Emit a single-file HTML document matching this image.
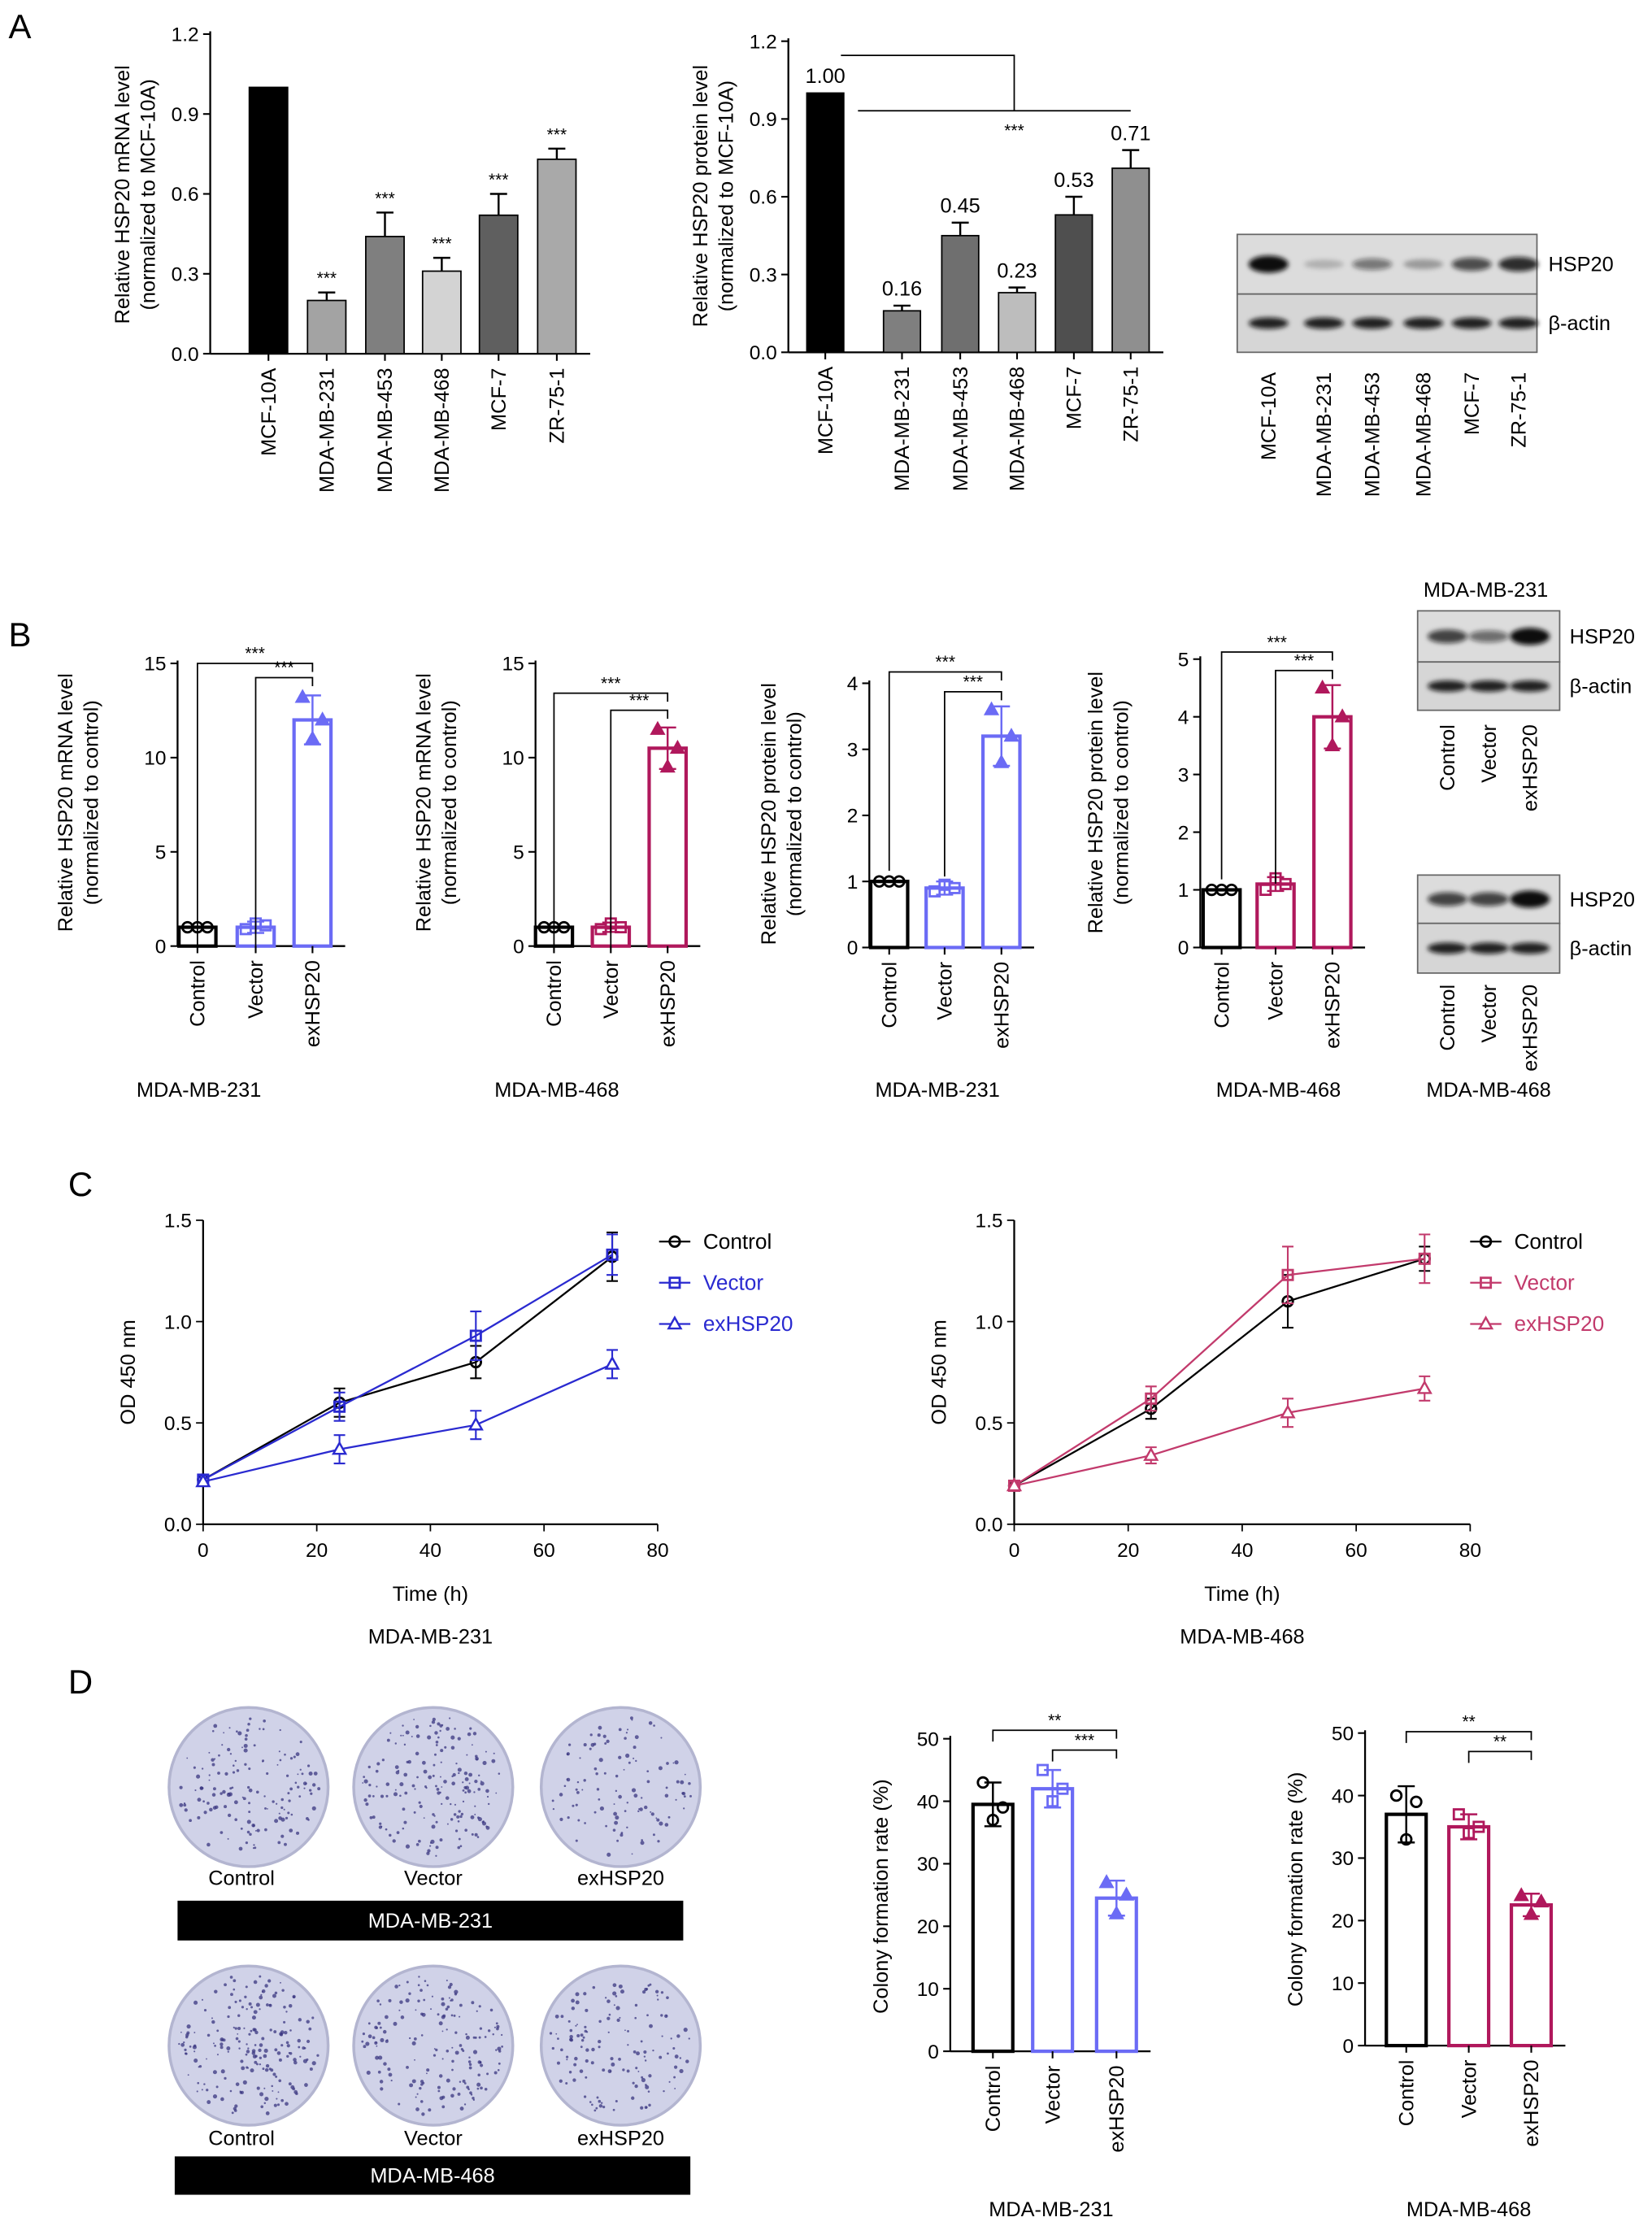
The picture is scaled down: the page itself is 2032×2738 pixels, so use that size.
<!DOCTYPE html>
<html><head><meta charset="utf-8"><style>
html,body{margin:0;padding:0;background:#fff}
svg{display:block;font-family:"Liberation Sans",Arial,sans-serif}
</style></head><body>
<svg id="fig" width="2032" height="2738" viewBox="0 0 1163 1567" preserveAspectRatio="none" xmlns="http://www.w3.org/2000/svg">
<defs><filter id="blur" x="-50%" y="-50%" width="200%" height="200%"><feGaussianBlur stdDeviation="1.6"/></filter></defs>
<text x="6" y="27" font-size="24">A</text>
<text x="6" y="455" font-size="24">B</text>
<text x="48" y="842" font-size="24">C</text>
<text x="48" y="1192" font-size="24">D</text>
</svg>
<script>
// ---------- DATA ----------
const cellLines = ['MCF-10A','MDA-MB-231','MDA-MB-453','MDA-MB-468','MCF-7','ZR-75-1'];
const aMrnaVals = [1.0,0.2,0.44,0.31,0.52,0.73];
const aMrnaErr = [0,0.03,0.09,0.05,0.08,0.04];
const aMrnaStars = ['','***','***','***','***','***'];
const aProtVals = [1.0,0.16,0.45,0.23,0.53,0.71];
const aProtErr = [0,0.02,0.05,0.02,0.07,0.07];
const aProtLabels = ['1.00','0.16','0.45','0.23','0.53','0.71'];
const aTicks = [0,0.3,0.6,0.9,1.2];
const groups = ['Control','Vector','exHSP20'];
const b1Vals = [1,1,12], b1Err=[0,0.3,1.3], b1Pts=[[1,1,1],[0.9,1.2,1.1],[13.2,11,12]];
const b2Vals = [1,1,10.5], b2Err=[0,0.25,1.1], b2Pts=[[1,1,1],[0.9,1.2,1.0],[11.5,9.5,10.5]];
const b3Vals = [1,0.9,3.2], b3Err=[0,0.1,0.45], b3Pts=[[1,1,1],[0.85,0.95,0.9],[3.6,2.8,3.2]];
const b4Vals = [1,1.1,4.0], b4Err=[0,0.12,0.55], b4Pts=[[1,1,1],[1.0,1.2,1.1],[4.5,3.5,4.0]];
const bTicks15=[0,5,10,15], bTicks4=[0,1,2,3,4], bTicks5=[0,1,2,3,4,5];
const timePts = [0,24,48,72];
const c1Control=[0.22,0.6,0.8,1.32], c1ControlErr=[0.02,0.07,0.08,0.12];
const c1Vector=[0.22,0.58,0.93,1.33], c1VectorErr=[0.02,0.07,0.12,0.1];
const c1Ex=[0.21,0.37,0.49,0.79], c1ExErr=[0.02,0.07,0.07,0.07];
const c2Control=[0.19,0.57,1.1,1.31], c2ControlErr=[0.02,0.05,0.13,0.06];
const c2Vector=[0.19,0.62,1.23,1.31], c2VectorErr=[0.02,0.06,0.14,0.12];
const c2Ex=[0.19,0.34,0.55,0.67], c2ExErr=[0.02,0.04,0.07,0.06];
const cYTicks=[0,0.5,1.0,1.5], cXTicks=[0,20,40,60,80];
const d1Vals=[39.5,42,24.5], d1Err=[3.5,3,2.8], d1Pts=[[43,37,39],[45,40,42],[27,22,25]];
const d2Vals=[37,35,22.5], d2Err=[4.5,2,1.8], d2Pts=[[40,33,39],[37,34,35],[24,21,23]];
const dTicks=[0,10,20,30,40,50];

// ---------- HELPERS ----------
const svg=document.getElementById('fig');
const NS='http://www.w3.org/2000/svg';
function mk(tag,attrs,parent){const e=document.createElementNS(NS,tag);for(const k in attrs)e.setAttribute(k,attrs[k]);(parent||svg).appendChild(e);return e;}
function txt(x,y,s,size,extra,parent){const e=mk('text',Object.assign({x:x,y:y,'font-size':size},extra||{}),parent);e.textContent=s;return e;}
function fmt(v,d){return d?v.toFixed(d):String(v);}

function marker(kind,x,y,color,g){
  let e;
  if(kind===0) e=mk('circle',{cx:x,cy:y,r:3.6,fill:'none',stroke:color,'stroke-width':1.6},g);
  else if(kind===1) e=mk('rect',{x:x-3.5,y:y-3.5,width:7,height:7,fill:'none',stroke:color,'stroke-width':1.6},g);
  else e=mk('polygon',{points:`${x},${y-4.5} ${x-4.3},${y+3.2} ${x+4.3},${y+3.2}`,fill:color==='#fff'?'none':color,stroke:color,'stroke-width':1.4},g);
  return e;
}

function barChart(o){
  const g=mk('g',{});
  
  
  const ys=v=>o.y0-(v/o.max)*(o.y0-o.yTop);
  const ax=mk('line',{x1:o.ax,y1:o.yTop-2,x2:o.ax,y2:o.y0,stroke:'#000','stroke-width':1.3},g);
  
  
  const xEnd=o.xs[o.xs.length-1]+o.bw/2+10;
  const xa=mk('line',{x1:o.ax,y1:o.y0,x2:xEnd,y2:o.y0,stroke:'#000','stroke-width':1.3},g);
  
  
  o.ticks.forEach(t=>{
    const y=ys(t);
    mk('line',{x1:o.ax-5,y1:y,x2:o.ax,y2:y,stroke:'#000','stroke-width':1.2},g);
    const tl=txt(o.ax-8,y+5,fmt(t,o.dec),14,{'text-anchor':'end'},g);
    
    
  });
  o.ylab.forEach((s,i)=>{
    const t=txt(0,0,s,14.5,{'text-anchor':'middle',transform:`translate(${o.ylx+i*18},${o.ylc}) rotate(-90)`},g);
    
    
  });
  o.vals.forEach((v,i)=>{
    const x=o.xs[i],y=ys(v);
    const open=o.open;
    const col=o.colors[i];
    const b=mk('rect',{x:x-o.bw/2,y:y,width:o.bw,height:o.y0-y,fill:open?'#fff':col,stroke:open?col:'#000','stroke-width':open?2.4:1},g);
    
    
    const ec=open?col:'#000';
    if(o.err[i]>0){
      const y1=ys(v+o.err[i]),y2=ys(v-o.err[i]);
      mk('line',{x1:x,y1:y1,x2:x,y2:open?y2:y,stroke:ec,'stroke-width':1.4},g);
      mk('line',{x1:x-6,y1:y1,x2:x+6,y2:y1,stroke:ec,'stroke-width':1.4},g);
      if(open) mk('line',{x1:x-6,y1:y2,x2:x+6,y2:y2,stroke:ec,'stroke-width':1.4},g);
    }
    if(o.pts){o.pts[i].forEach((p,j)=>{const m=marker(i,x+(j-1)*7,ys(p),col,g);});}
    if(o.stars&&o.stars[i]){const s=txt(x,ys(v+o.err[i])-6,o.stars[i],12,{'text-anchor':'middle'},g);}
    if(o.vlabels){const s=txt(x,ys(v+o.err[i])-7,o.vlabels[i],14.5,{'text-anchor':'middle'},g);}
    mk('line',{x1:x,y1:o.y0,x2:x,y2:o.y0+5,stroke:'#000','stroke-width':1.2},g);
    const cl=txt(0,0,o.cats[i],14.5,{'text-anchor':'end',transform:`translate(${x+5},${o.y0+10}) rotate(-90)`},g);
    
    
  });
  if(o.title){const t=txt(o.title[0],o.title[1],o.title[2],14.5,{'text-anchor':'middle'},g);}
  (o.brackets||[]).forEach(b=>{
    const i=b[0],j=b[1],y=b[2];
    const xi=o.xs[i],xj=o.xs[j];
    mk('path',{d:`M${xi},${y+ (b[4]||90)} L${xi},${y} L${xj},${y} L${xj},${y+6}`,fill:'none',stroke:'#000','stroke-width':1},g);
    const s=txt((xi+xj)/2,y-3,b[3],12,{'text-anchor':'middle'},g);
    
    
  });
  return g;
}

// ---------- PANEL A ----------
const grayCols=['#000','#a3a3a3','#7f7f7f','#d3d3d3','#5f5f5f','#a9a9a9'];
barChart({name:'chart-a-mrna',ax:148,y0:249,yTop:24,max:1.2,ticks:aTicks,dec:1,xs:[189,230,271,311,351,392],bw:27,
  vals:aMrnaVals,err:aMrnaErr,colors:grayCols,cats:cellLines,stars:aMrnaStars,ylab:['Relative HSP20 mRNA level','(normalized to MCF-10A)'],ylx:91,ylc:137});
const gA2=barChart({name:'chart-a-protein',ax:555,y0:248,yTop:29,max:1.2,ticks:aTicks,dec:1,xs:[581,635,676,716,756,796],bw:26,
  vals:aProtVals,err:aProtErr,colors:['#000','#7f7f7f','#6f6f6f','#bdbdbd','#4f4f4f','#8f8f8f'],cats:cellLines,vlabels:aProtLabels,ylab:['Relative HSP20 protein level','(normalized to MCF-10A)'],ylx:498,ylc:138});
mk('path',{d:'M592,39 L714,39 L714,78 M604,78 L796,78',fill:'none',stroke:'#000','stroke-width':1},gA2);
txt(714,96,'***',12,{'text-anchor':'middle'},gA2);

function blot(name,x,y,w,h1,h2,lanes,topI,labels,lx){
  const g=mk('g',{});
  
  
  mk('rect',{x:x,y:y,width:w,height:h1,fill:'#dcdcdc',stroke:'#666','stroke-width':1},g);
  mk('rect',{x:x,y:y+h1,width:w,height:h2,fill:'#d6d6d6',stroke:'#666','stroke-width':1},g);
  lanes.forEach((lx0,i)=>{
    const it=topI[i];
    mk('ellipse',{cx:lx0,cy:y+h1/2,rx:14,ry:3+3*it,fill:'#111','fill-opacity':Math.min(1,0.15+it),filter:'url(#blur)'},g);
    mk('ellipse',{cx:lx0,cy:y+h1+h2/2,rx:14,ry:4,fill:'#111','fill-opacity':0.9,filter:'url(#blur)'},g);
  });
  const l1=txt(lx,y+h1/2+5,labels[0],14.5,{},g);
  
  
  const l2=txt(lx,y+h1+h2/2+5,labels[1],14.5,{},g);
  
  
  return g;
}
const gBA=blot('western-blot-a',871,165,211,42,41,[893,932,966,1002,1036,1069],[1,0.05,0.35,0.15,0.55,0.7],['HSP20','β-actin'],1090);
[893,932,966,1002,1036,1069].forEach((x,i)=>{const t=txt(0,0,cellLines[i],14.5,{'text-anchor':'end',transform:`translate(${x+5},262) rotate(-90)`},gBA);});

// ---------- PANEL B ----------
const blue='#6b6bf5', mag='#b0185c';
barChart({name:'chart-b-mrna-231',ax:125,y0:666,yTop:467,max:15,ticks:bTicks15,xs:[139,180,220],bw:26,open:true,
  vals:b1Vals,err:b1Err,pts:b1Pts,colors:['#000',blue,blue],cats:groups,ylab:['Relative HSP20 mRNA level','(normalized to control)'],ylx:51,ylc:565,
  title:[140,772,'MDA-MB-231'],brackets:[[0,2,467,'***',200],[1,2,477,'***',190]]});
barChart({name:'chart-b-mrna-468',ax:377,y0:666,yTop:467,max:15,ticks:bTicks15,xs:[390,430,470],bw:26,open:true,
  vals:b2Vals,err:b2Err,pts:b2Pts,colors:['#000',mag,mag],cats:groups,ylab:['Relative HSP20 mRNA level','(normalized to control)'],ylx:303,ylc:565,
  title:[392,772,'MDA-MB-468'],brackets:[[0,2,488,'***',178],[1,2,500,'***',166]]});
barChart({name:'chart-b-protein-231',ax:612,y0:667,yTop:481,max:4,ticks:bTicks4,xs:[626,665,705],bw:26,open:true,
  vals:b3Vals,err:b3Err,pts:b3Pts,colors:['#000',blue,blue],cats:groups,ylab:['Relative HSP20 protein level','(normalized to control)'],ylx:546,ylc:573,
  title:[660,772,'MDA-MB-231'],brackets:[[0,2,473,'***',140],[1,2,487,'***',130]]});
barChart({name:'chart-b-protein-468',ax:845,y0:667,yTop:464,max:5,ticks:bTicks5,xs:[860,898,938],bw:26,open:true,
  vals:b4Vals,err:b4Err,pts:b4Pts,colors:['#000',mag,mag],cats:groups,ylab:['Relative HSP20 protein level','(normalized to control)'],ylx:776,ylc:565,
  title:[900,772,'MDA-MB-468'],brackets:[[0,2,459,'***',160],[1,2,472,'***',150]]});
const gB1=blot('western-blot-b-231',998,430,100,36,34,[1019,1048,1077],[0.6,0.4,1],['HSP20','β-actin'],1105);
txt(1046,420,'MDA-MB-231',14.5,{'text-anchor':'middle'},gB1);
const gB2=blot('western-blot-b-468',998,616,100,34,35,[1019,1048,1077],[0.6,0.6,1],['HSP20','β-actin'],1105);
txt(1048,772,'MDA-MB-468',14.5,{'text-anchor':'middle'},gB2);
[[gB1,510],[gB2,693]].forEach(p=>{[1019,1048,1077].forEach((x,i)=>{const t=txt(0,0,groups[i],14.5,{'text-anchor':'end',transform:`translate(${x+5},${p[1]}) rotate(-90)`},p[0]);});});

// ---------- PANEL C ----------
function lineChart(o){
  const g=mk('g',{});
  
  
  const xs=v=>o.ax+(v/80)*(o.xEnd-o.ax), ys=v=>o.y0-(v/1.5)*(o.y0-o.yTop);
  mk('line',{x1:o.ax,y1:o.yTop,x2:o.ax,y2:o.y0,stroke:'#000','stroke-width':1.3},g);
  mk('line',{x1:o.ax,y1:o.y0,x2:o.xEnd,y2:o.y0,stroke:'#000','stroke-width':1.3},g);
  cYTicks.forEach(t=>{const y=ys(t);mk('line',{x1:o.ax-5,y1:y,x2:o.ax,y2:y,stroke:'#000'},g);const l=txt(o.ax-8,y+5,t.toFixed(1),14,{'text-anchor':'end'},g);});
  cXTicks.forEach(t=>{const x=xs(t);mk('line',{x1:x,y1:o.y0,x2:x,y2:o.y0+5,stroke:'#000'},g);const l=txt(x,o.y0+23,String(t),14,{'text-anchor':'middle'},g);});
  const yt=txt(0,0,'OD 450 nm',14.5,{'text-anchor':'middle',transform:`translate(${o.ax-48},${(o.y0+o.yTop)/2}) rotate(-90)`},g);
  
  
  const xt=txt((o.ax+o.xEnd)/2,o.y0+54,'Time (h)',14.5,{'text-anchor':'middle'},g);
  
  
  const st=txt((o.ax+o.xEnd)/2,o.y0+84,o.title,14.5,{'text-anchor':'middle'},g);
  
  
  o.series.forEach((s,k)=>{
    const sg=mk('g',{},g);
    
    
    mk('polyline',{points:timePts.map((t,i)=>xs(t)+','+ys(s[0][i])).join(' '),fill:'none',stroke:o.colors[k],'stroke-width':1.3},sg);
    timePts.forEach((t,i)=>{
      const x=xs(t),y1=ys(s[0][i]+s[1][i]),y2=ys(s[0][i]-s[1][i]);
      mk('path',{d:`M${x-4},${y1}H${x+4}M${x},${y1}V${y2}M${x-4},${y2}H${x+4}`,stroke:o.colors[k],fill:'none','stroke-width':1.2},sg);
      const m=marker(k,x,ys(s[0][i]),o.colors[k],sg);
      if(k===2) m.setAttribute('fill','#fff');
      
      
    });
    const ly=o.legY+k*29;
    const lg=mk('g',{},g);
    
    
    mk('line',{x1:o.legX,y1:ly,x2:o.legX+22,y2:ly,stroke:o.colors[k],'stroke-width':1.3},lg);
    const lm=marker(k,o.legX+11,ly,o.colors[k],lg); if(k===2) lm.setAttribute('fill','#fff');
    txt(o.legX+31,ly+5,groups[k],15,{fill:k===0?'#000':o.colors[k]},lg);
  });
}
lineChart({name:'chart-c-231',ax:143,xEnd:463,y0:1073,yTop:859,title:'MDA-MB-231',legX:464,legY:874,
  series:[[c1Control,c1ControlErr],[c1Vector,c1VectorErr],[c1Ex,c1ExErr]],colors:['#000','#2a2ad0','#2a2ad0']});
lineChart({name:'chart-c-468',ax:714,xEnd:1035,y0:1073,yTop:859,title:'MDA-MB-468',legX:1035,legY:874,
  series:[[c2Control,c2ControlErr],[c2Vector,c2VectorErr],[c2Ex,c2ExErr]],colors:['#000','#c23a6c','#c23a6c']});

// ---------- PANEL D ----------
const plates=mk('g',{});


let seed=7;function rnd(){seed=(seed*9301+49297)%233280;return seed/233280;}
[[175,1258],[305,1258],[437,1258],[175,1440],[305,1440],[437,1440]].forEach((c,i)=>{
  const p=mk('circle',{cx:c[0],cy:c[1],r:56,fill:'#d0d2e8',stroke:'#b3b5d0','stroke-width':2},plates);
  
  
  const n=[150,180,110,200,170,140][i];
  for(let k=0;k<n;k++){const a=rnd()*6.283,r=Math.sqrt(rnd())*50;mk('circle',{cx:c[0]+r*Math.cos(a),cy:c[1]+r*Math.sin(a),r:0.5+rnd()*1.0,fill:'#3a3580','fill-opacity':0.75},plates);}
});
[[170,1327,'Control'],[305,1327,'Vector'],[437,1327,'exHSP20'],[170,1510,'Control'],[305,1510,'Vector'],[437,1510,'exHSP20']].forEach(l=>{const t=txt(l[0],l[1],l[2],14.5,{'text-anchor':'middle'},plates);});
[[125,1338,356,28,'MDA-MB-231'],[123,1518,363,27,'MDA-MB-468']].forEach(b=>{
  const r=mk('rect',{x:b[0],y:b[1],width:b[2],height:b[3],fill:'#000'},plates);
  
  
  txt(b[0]+b[2]/2,b[1]+b[3]/2+5,b[4],14.5,{'text-anchor':'middle',fill:'#fff'},plates);
});
barChart({name:'chart-d-231',ax:669,y0:1444,yTop:1224,max:50,ticks:dTicks,xs:[699,741,786],bw:28,open:true,
  vals:d1Vals,err:d1Err,pts:d1Pts,colors:['#000',blue,blue],cats:groups,ylab:['Colony formation rate (%)'],ylx:625,ylc:1335,
  title:[740,1560,'MDA-MB-231'],brackets:[[0,2,1218,'**',8],[1,2,1232,'***',8]]});
barChart({name:'chart-d-468',ax:961,y0:1440,yTop:1220,max:50,ticks:dTicks,xs:[990,1034,1078],bw:28,open:true,
  vals:d2Vals,err:d2Err,pts:d2Pts,colors:['#000',mag,mag],cats:groups,ylab:['Colony formation rate (%)'],ylx:917,ylc:1330,
  title:[1034,1560,'MDA-MB-468'],brackets:[[0,2,1219,'**',8],[1,2,1233,'**',8]]});
</script>
</body></html>
